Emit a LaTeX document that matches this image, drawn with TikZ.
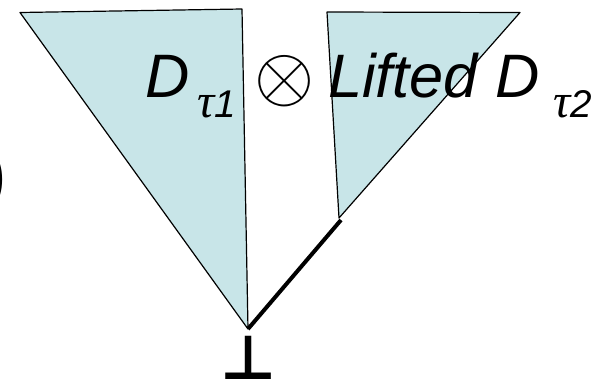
\documentclass[tikz,border=0pt]{standalone}
\usepackage{fontspec}
\setmainfont{Liberation Sans}
\newfontfamily\greekfont{Liberation Serif}
\newfontfamily\symfont{DejaVu Sans}
\usepackage{tikz}
\usetikzlibrary{positioning}
\definecolor{treefill}{RGB}{200,229,232}

\newcommand{\tauit}{{\fontsize{36}{36}\selectfont\greekfont τ}}

\begin{document}
\begin{tikzpicture}[
    x=0.75pt, y=-0.75pt,
    tri/.style={draw, fill=treefill, line width=0.9pt, line join=round},
    big/.style={inner sep=0, outer sep=0, font=\fontsize{46}{46}\selectfont\itshape},
    sub/.style={inner sep=0, outer sep=0, font=\fontsize{29}{29}\selectfont\itshape},
]
\useasboundingbox (0,0) rectangle (612,387);

% the two derivation trees
\coordinate (root) at (248,329);
\coordinate (joint) at (341,220);
\draw[tri] (20,12.5) -- (242,9) -- (root) -- cycle;
\draw[tri] (327,12) -- (520,12.5) -- (339,218) -- cycle;
\draw[line width=3pt] (root) -- (joint);

% cut off bracket at the left border
\node[inner sep=0, font=\fontsize{48}{48}\selectfont\bfseries, anchor=east] (brk) at (6,180) {)};

% product label
\node[big, anchor=base west] (d1) at (145,97) {D};
\node[sub, anchor=base west] (t1) at (197,117) {\tauit1};
\node[inner sep=0] (prod) at (285,81) {\scalebox{5.8}{$\otimes$}};
\node[big, anchor=base west] (d2) at (328,97) {Lifted D};
\node[sub, anchor=base west] (t2) at (553,117) {\tauit2};

% bottom element
\node[inner sep=0, font=\fontsize{46}{46}\selectfont\symfont\bfseries, anchor=base] (bot) at (248.5,379) {⊥};
\end{tikzpicture}
\end{document}
